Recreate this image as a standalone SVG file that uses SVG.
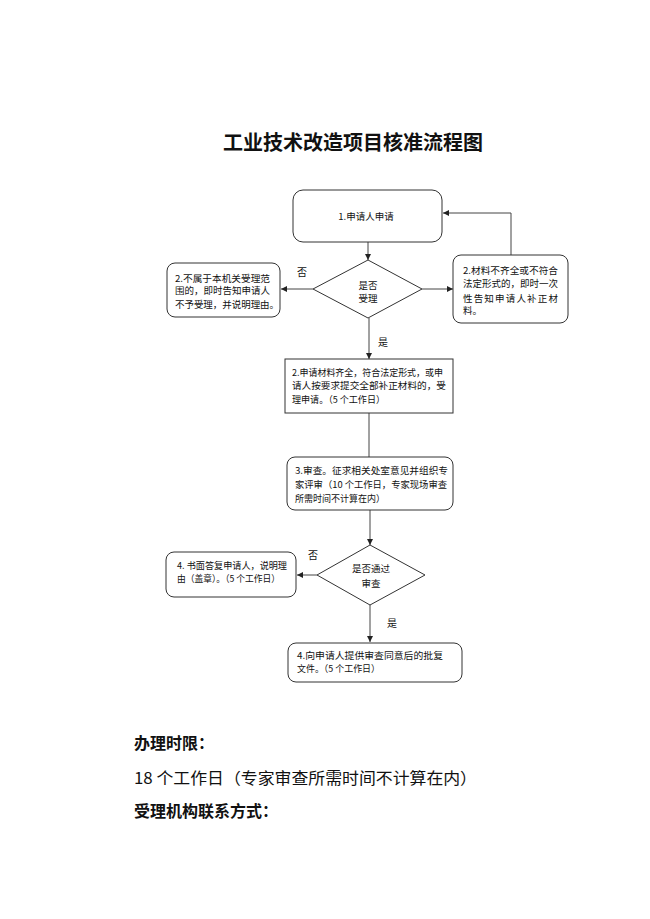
<svg xmlns="http://www.w3.org/2000/svg" width="650" height="919" viewBox="0 0 650 919">
<style>
  .box{fill:#fff;stroke:#333;stroke-width:1}
  .t{font-family:"Noto Sans CJK SC","Liberation Sans",sans-serif;font-size:9.5px;fill:#111}
  .c{text-anchor:middle}
  .lbl{font-family:"Noto Sans CJK SC","Liberation Sans",sans-serif;font-size:10px;fill:#111}
  .title{font-family:"Noto Sans CJK SC","Liberation Sans",sans-serif;font-size:20px;font-weight:bold;fill:#111;text-anchor:middle}
  .body{font-family:"Noto Sans CJK SC","Liberation Sans",sans-serif;font-size:16px;fill:#111}
  .bold{font-weight:bold}
  .ln{fill:none;stroke:#444;stroke-width:1}
</style>
<defs>
  <marker id="ah" viewBox="0 0 10 10" refX="10" refY="5" markerWidth="6" markerHeight="6" markerUnits="userSpaceOnUse" orient="auto">
    <path d="M0,0 L10,5 L0,10 z" fill="#222"/>
  </marker>
</defs>
<rect width="650" height="919" fill="#fff"/>
<text class="title" x="353" y="150">工业技术改造项目核准流程图</text>

<g id="connectors">
  <line class="ln" x1="368" y1="242" x2="368" y2="260" marker-end="url(#ah)"/>
  <line class="ln" x1="313" y1="289" x2="281" y2="289" marker-end="url(#ah)"/>
  <line class="ln" x1="422" y1="289" x2="453" y2="289" marker-end="url(#ah)"/>
  <polyline class="ln" points="511,255 511,213 443,213" marker-end="url(#ah)"/>
  <line class="ln" x1="369" y1="318" x2="369" y2="359" marker-end="url(#ah)"/>
  <line class="ln" x1="369" y1="413" x2="369" y2="457"/>
  <line class="ln" x1="370" y1="510" x2="370" y2="545" marker-end="url(#ah)"/>
  <line class="ln" x1="317" y1="575" x2="297" y2="575" marker-end="url(#ah)"/>
  <line class="ln" x1="370" y1="605" x2="370" y2="642" marker-end="url(#ah)"/>
  <text class="lbl" x="297" y="276">否</text>
  <text class="lbl" x="378" y="346">是</text>
  <text class="lbl" x="308" y="559">否</text>
  <text class="lbl" x="387" y="627">是</text>
</g>

<g id="n1">
  <rect class="box" x="293" y="190" width="149" height="52" rx="10"/>
  <text class="t c" x="366" y="220">1.申请人申请</text>
</g>

<g id="d1">
  <polygon class="box" points="368,260 422,289 368,318 313,289"/>
  <text class="t c" x="368" y="288.5">是否</text>
  <text class="t c" x="368" y="301.5">受理</text>
</g>

<g id="n2">
  <rect class="box" x="167" y="263" width="113" height="54" rx="8"/>
  <text class="t" x="175" y="281.5" textLength="95" lengthAdjust="spacingAndGlyphs">2.不属于本机关受理范</text>
  <text class="t" x="175" y="294" textLength="95" lengthAdjust="spacingAndGlyphs">围的，即时告知申请人</text>
  <text class="t" x="175" y="307.5" textLength="104" lengthAdjust="spacingAndGlyphs">不予受理，并说明理由。</text>
</g>

<g id="n3">
  <rect class="box" x="453" y="255" width="115" height="68" rx="8"/>
  <text class="t" x="463" y="273.5" textLength="95" lengthAdjust="spacingAndGlyphs">2.材料不齐全或不符合</text>
  <text class="t" x="463" y="287" textLength="95" lengthAdjust="spacingAndGlyphs">法定形式的，即时一次</text>
  <text class="t" x="463" y="301.5" textLength="95" lengthAdjust="spacing">性告知申请人补正材</text>
  <text class="t" x="463" y="314">料。</text>
</g>

<g id="n4">
  <rect class="box" x="285" y="359" width="168" height="54"/>
  <text class="t" x="292" y="375.5" textLength="151" lengthAdjust="spacingAndGlyphs">2.申请材料齐全，符合法定形式，或申</text>
  <text class="t" x="292" y="388.5" textLength="154" lengthAdjust="spacingAndGlyphs">请人按要求提交全部补正材料的，受</text>
  <text class="t" x="292" y="402.5" textLength="93" lengthAdjust="spacingAndGlyphs">理申请。（5 个工作日）</text>
</g>

<g id="n5">
  <rect class="box" x="287" y="457" width="166" height="53" rx="8"/>
  <text class="t" x="295" y="473.5" textLength="153" lengthAdjust="spacingAndGlyphs">3.审查。征求相关处室意见并组织专</text>
  <text class="t" x="295" y="487.5" textLength="152" lengthAdjust="spacingAndGlyphs">家评审（10 个工作日，专家现场审查</text>
  <text class="t" x="295" y="501.5" textLength="90" lengthAdjust="spacingAndGlyphs">所需时间不计算在内）</text>
</g>

<g id="d2">
  <polygon class="box" points="370,545 425,575 370,605 317,575"/>
  <text class="t c" x="371" y="571.5">是否通过</text>
  <text class="t c" x="371" y="586.5">审查</text>
</g>

<g id="n6">
  <rect class="box" x="166" y="552" width="130" height="45" rx="8"/>
  <text class="t" x="177" y="568.5" textLength="110" lengthAdjust="spacingAndGlyphs">4. 书面答复申请人，说明理</text>
  <text class="t" x="177" y="581.5" textLength="103" lengthAdjust="spacingAndGlyphs">由（盖章）。（5 个工作日）</text>
</g>

<g id="n7">
  <rect class="box" x="288" y="643" width="174" height="39" rx="8"/>
  <text class="t" x="297" y="658.5" textLength="146" lengthAdjust="spacingAndGlyphs">4.向申请人提供审查同意后的批复</text>
  <text class="t" x="297" y="672" textLength="83" lengthAdjust="spacingAndGlyphs">文件。（5 个工作日）</text>
</g>

<text class="body bold" x="134" y="749">办理时限：</text>
<text class="body" x="134" y="784" textLength="343" lengthAdjust="spacingAndGlyphs">18 个工作日（专家审查所需时间不计算在内）</text>
<text class="body bold" x="134" y="817">受理机构联系方式：</text>
</svg>
